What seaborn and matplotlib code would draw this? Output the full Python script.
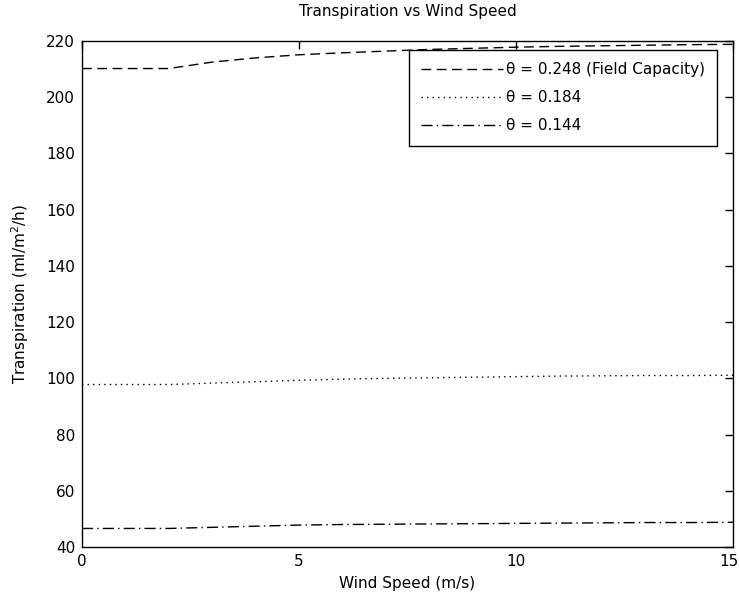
import matplotlib
matplotlib.use("Agg")
import matplotlib.pyplot as plt
import matplotlib.transforms as mtransforms
import seaborn as sns
import pandas as pd

wind = [0, 1, 2, 3, 4, 5, 6, 7, 8, 9, 10, 11, 12, 13, 14, 15]
fc = [210.2, 210.2, 210.2, 212.5, 214.0, 215.1, 215.8, 216.4, 217.0, 217.4, 217.8, 218.1, 218.3, 218.5, 218.7, 218.8]
t184 = [97.8, 97.8, 97.8, 98.3, 98.8, 99.3, 99.7, 100.0, 100.2, 100.4, 100.6, 100.8, 100.9, 101.0, 101.0, 101.1]
t144 = [46.6, 46.6, 46.6, 47.0, 47.4, 47.8, 48.0, 48.1, 48.2, 48.3, 48.4, 48.5, 48.6, 48.7, 48.7, 48.8]
labels = ["θ = 0.248 (Field Capacity)", "θ = 0.184", "θ = 0.144"]
xticks = [0, 5, 10, 15]
yticks = [40, 60, 80, 100, 120, 140, 160, 180, 200, 220]

sns.set_style("white")
plt.rcParams['font.family'] = ['DejaVu Sans']
plt.rcParams['mathtext.default'] = 'regular'
plt.rcParams['text.color'] = 'black'
plt.rcParams['axes.labelcolor'] = 'black'
FS = 11
plt.rcParams['font.size'] = FS

fig = plt.figure(figsize=(7.4, 6.05), dpi=100)
ax = fig.add_axes([82/740, 1-547/605, 651/740, 506/605])

styles = [(0, (7, 4)), (0, (1, 3)), (0, (8, 3, 1, 3))]
for vals, lab, ls in zip([fc, t184, t144], labels, styles):
    df = pd.DataFrame({"x": wind, "y": vals})
    sns.lineplot(data=df, x="x", y="y", ax=ax, color="black", linewidth=1.0,
                 linestyle=ls, label=lab)

ax.set_xlim(0, 15)
ax.set_ylim(40, 220)
ax.set_xticks(xticks)
ax.set_yticks(yticks)
ax.set_xlabel("Wind Speed (m/s)", fontsize=FS, labelpad=5, color='black')
ax.set_ylabel("Transpiration (ml/m$^2$/h)", fontsize=FS, labelpad=11, color='black')
ax.set_title("Transpiration vs Wind Speed", fontsize=FS, pad=18, color='black')
ax.tick_params(direction='in', top=True, right=True, length=6, width=1,
               colors='black', labelsize=FS, pad=5)
for s in ax.spines.values():
    s.set_color('black')
    s.set_linewidth(1.0)
    s.set_visible(True)

# nudge last x tick label so it stays inside the canvas
lbl = ax.get_xticklabels()[-1]
lbl.set_transform(lbl.get_transform() + mtransforms.ScaledTranslation(-4/100, 0, fig.dpi_scale_trans))

leg = ax.legend(loc='upper right', bbox_to_anchor=(0.9754, 0.982), fancybox=False,
                frameon=True, edgecolor='black', framealpha=1, handlelength=5.4,
                handletextpad=0.15, borderpad=0.8, labelspacing=0.85, fontsize=FS,
                borderaxespad=0)
leg.get_frame().set_linewidth(1.0)
for t in leg.get_texts():
    t.set_color('black')

fig.savefig("out.png", dpi=100, facecolor='white')
